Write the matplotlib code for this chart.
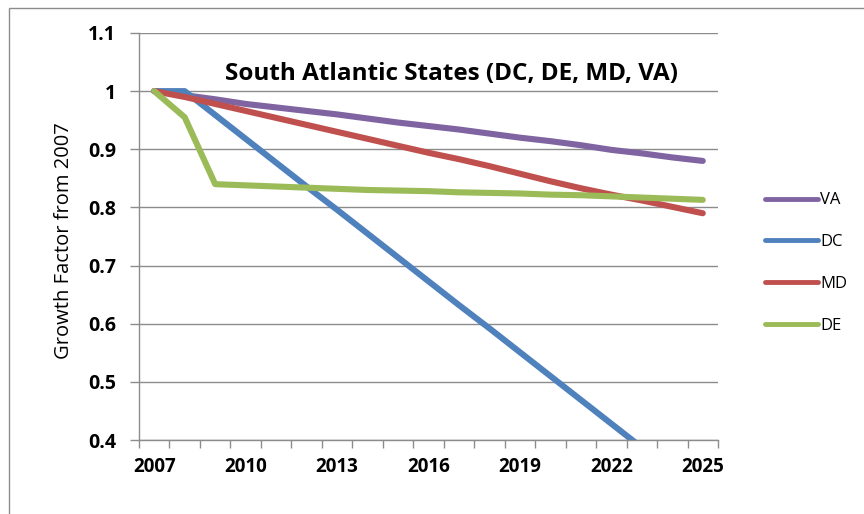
import matplotlib
matplotlib.use("Agg")
import matplotlib.pyplot as plt
from matplotlib.patches import Rectangle

# === Data ===
years = list(range(2007, 2026))
va = [1.000, 0.993, 0.986, 0.978, 0.972, 0.966, 0.960, 0.953, 0.946, 0.940,
      0.934, 0.927, 0.920, 0.914, 0.907, 0.899, 0.893, 0.886, 0.880]
dc = [1.000, 1.000, 0.959, 0.918, 0.877, 0.836, 0.796, 0.755, 0.714, 0.673,
      0.632, 0.592, 0.551, 0.510, 0.469, 0.428, 0.387, 0.346, 0.305]
md = [1.000, 0.990, 0.978, 0.966, 0.954, 0.942, 0.930, 0.918, 0.906, 0.894,
      0.883, 0.871, 0.858, 0.845, 0.833, 0.822, 0.812, 0.801, 0.790]
de = [1.000, 0.955, 0.840, 0.838, 0.836, 0.834, 0.832, 0.830, 0.829, 0.828,
      0.826, 0.825, 0.824, 0.822, 0.821, 0.819, 0.817, 0.815, 0.813]

series = [("VA", va, "#8064A2"), ("DC", dc, "#4F81BD"),
          ("MD", md, "#C0504D"), ("DE", de, "#9BBB59")]

plt.rcParams['font.family'] = ['Open Sans', 'DejaVu Sans']

fig = plt.figure(figsize=(8.64, 5.14), dpi=100)
ax = fig.add_axes([139 / 864, 74 / 514, 579 / 864, 407 / 514])

# outer chart border (clipped at right/bottom in the reference)
fig.patches.append(Rectangle((9 / 864, -0.5), 2.0, 0.5 + 506 / 514,
                             transform=fig.transFigure, fill=False,
                             edgecolor="#8c8c8c", linewidth=1.0))

x = list(range(len(years)))
for name, vals, col in series:
    ax.plot(x, vals, color=col, linewidth=4.4, solid_capstyle="round",
            solid_joinstyle="round", label=name)

ax.set_xlim(-0.5, len(years) - 0.5)
ax.set_ylim(0.4, 1.1)

# y axis
yt = [0.4, 0.5, 0.6, 0.7, 0.8, 0.9, 1.0, 1.1]
ax.set_yticks(yt)
ax.set_yticklabels(["0.4", "0.5", "0.6", "0.7", "0.8", "0.9", "1", "1.1"],
                   fontweight="bold", fontsize=14)
ax.yaxis.grid(True, color="#8c8c8c", linewidth=1.0)
ax.set_axisbelow(True)
ax.tick_params(axis="y", length=6.5, width=1, color="#8c8c8c", pad=10)

# x axis: category axis, ticks between categories, labels every 3 years
ax.set_xticks(x[::3])
ax.set_xticklabels([str(y) for y in years[::3]], fontweight="bold", fontsize=13.5)
ax.set_xticks([i - 0.5 for i in range(len(years) + 1)], minor=True)
ax.tick_params(axis="x", which="major", length=0, pad=12)
ax.tick_params(axis="x", which="minor", length=6, width=1, color="#8c8c8c")

for s in ["top", "right"]:
    ax.spines[s].set_visible(False)
for s in ["left", "bottom"]:
    ax.spines[s].set_color("#8c8c8c")
    ax.spines[s].set_linewidth(1.0)

ax.set_ylabel("Growth Factor from 2007", fontsize=14.5)
ax.yaxis.set_label_coords(-0.112, 0.49)
ax.text(0.54, 0.9, "South Atlantic States (DC, DE, MD, VA)", transform=ax.transAxes,
        ha="center", va="center", fontsize=17.5, fontweight="bold")

leg = fig.legend(loc="center left", bbox_to_anchor=(765 / 864, 0.488), frameon=False,
                 fontsize=12, handlelength=3.2, handletextpad=0.1, labelspacing=1.55,
                 borderpad=0, borderaxespad=0)
for h in leg.legend_handles:
    h.set_linewidth(3.5)

fig.savefig("out.png", dpi=100, facecolor="white")
